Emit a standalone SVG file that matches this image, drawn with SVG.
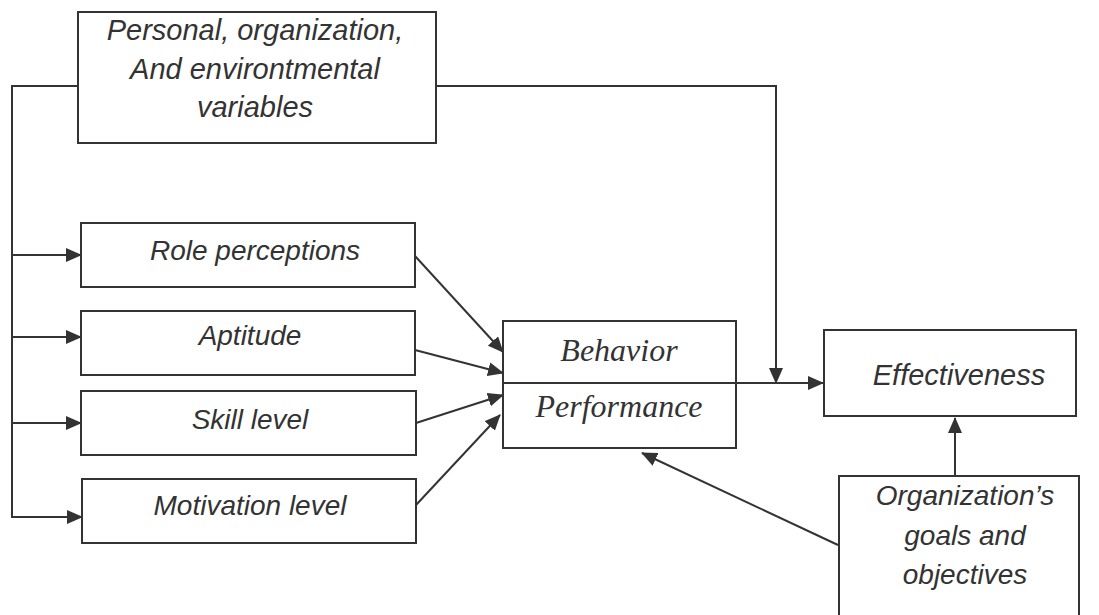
<svg xmlns="http://www.w3.org/2000/svg" width="1099" height="615" viewBox="0 0 1099 615">
<defs>
<marker id="arr" markerWidth="16" markerHeight="14" refX="15" refY="7" orient="auto" markerUnits="userSpaceOnUse">
<path d="M0,0 L16,7 L0,14 Z" fill="#333"/>
</marker>
</defs>
<style>
.box{fill:none;stroke:#333;stroke-width:2}
.t{font-family:"Liberation Sans",Arial,sans-serif;font-style:italic;font-size:28px;fill:#333;text-anchor:middle}
.s{font-family:"Liberation Serif","Times New Roman",serif;font-style:italic;font-size:32px;fill:#333;text-anchor:middle}
.c{fill:none;stroke:#333;stroke-width:2}
</style>
<rect width="1099" height="615" fill="#fff"/>
<g id="connectors">
<polyline class="c" points="78,86 12,86 12,518"/>
<line class="c" x1="12" y1="255" x2="81" y2="255" marker-end="url(#arr)"/>
<line class="c" x1="12" y1="337" x2="81" y2="337" marker-end="url(#arr)"/>
<line class="c" x1="12" y1="423" x2="81" y2="423" marker-end="url(#arr)"/>
<line class="c" x1="12" y1="517" x2="82" y2="517" marker-end="url(#arr)"/>
<polyline class="c" points="436,86 776,86 776,383" marker-end="url(#arr)"/>
<line class="c" x1="415" y1="256" x2="503" y2="352" marker-end="url(#arr)"/>
<line class="c" x1="415" y1="350" x2="503" y2="373" marker-end="url(#arr)"/>
<line class="c" x1="416" y1="423" x2="503" y2="395" marker-end="url(#arr)"/>
<line class="c" x1="416" y1="505" x2="500" y2="415" marker-end="url(#arr)"/>
<line class="c" x1="736" y1="383" x2="823" y2="383" marker-end="url(#arr)"/>
<line class="c" x1="955" y1="476" x2="955" y2="418" marker-end="url(#arr)"/>
<line class="c" x1="838" y1="545" x2="642" y2="453" marker-end="url(#arr)"/>
</g>
<g id="n-variables">
<rect class="box" x="78" y="12" width="358" height="131"/>
<text class="t" x="255" y="40" style="font-size:29px">Personal, organization,</text>
<text class="t" x="255" y="79" style="font-size:29px">And environtmental</text>
<text class="t" x="255" y="117" style="font-size:29px">variables</text>
</g>
<g id="n-role">
<rect class="box" x="81" y="223" width="334" height="64"/>
<text class="t" x="255" y="260">Role perceptions</text>
</g>
<g id="n-aptitude">
<rect class="box" x="81" y="311" width="334" height="64"/>
<text class="t" x="250" y="345">Aptitude</text>
</g>
<g id="n-skill">
<rect class="box" x="81" y="391" width="335" height="64"/>
<text class="t" x="250" y="429">Skill level</text>
</g>
<g id="n-motivation">
<rect class="box" x="82" y="479" width="334" height="64"/>
<text class="t" x="250" y="515">Motivation level</text>
</g>
<g id="n-behavior">
<rect class="box" x="503" y="321" width="233" height="127"/>
<line class="c" x1="503" y1="383" x2="736" y2="383"/>
<text class="s" x="619" y="361">Behavior</text>
<text class="s" x="619" y="417">Performance</text>
</g>
<g id="n-effectiveness">
<rect class="box" x="824" y="330" width="252" height="86"/>
<text class="t" x="959" y="385" style="font-size:29px">Effectiveness</text>
</g>
<g id="n-goals">
<rect class="box" x="839" y="476" width="240" height="145"/>
<text class="t" x="965" y="505">Organization’s</text>
<text class="t" x="965" y="545">goals and</text>
<text class="t" x="965" y="584">objectives</text>
</g>
</svg>
